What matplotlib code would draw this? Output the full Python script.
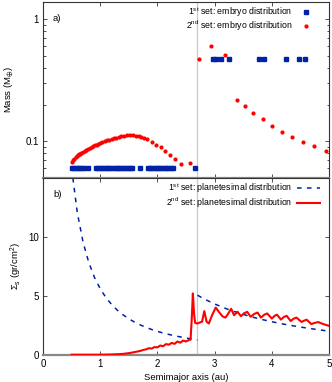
import matplotlib
matplotlib.use("Agg")
import matplotlib.pyplot as plt

plt.rcParams['font.family'] = ['Liberation Sans', 'DejaVu Sans']
plt.rcParams['mathtext.default'] = 'regular'
plt.rcParams['font.size'] = 6.5

# ---- panel a) embryo distributions ----
emb1_inner_a = [0.51, 0.55, 0.59, 0.63, 0.67, 0.71, 0.78, 0.93, 0.97, 1.01, 1.05, 1.10, 1.14, 1.18,
                1.22, 1.27, 1.31, 1.35, 1.39, 1.44, 1.48, 1.52, 1.56, 1.70, 1.83, 1.87, 1.91, 1.95,
                1.99, 2.03, 2.07, 2.11, 2.15, 2.19, 2.23, 2.27, 2.66]
emb1_inner_m = [0.06] * len(emb1_inner_a)
emb1_outer_a = [2.98, 3.03, 3.12, 3.25, 3.77, 3.87, 4.24, 4.47, 4.58]
emb1_outer_m = [0.47] * len(emb1_outer_a)

emb2_a = [0.51, 0.53, 0.55, 0.57, 0.59, 0.61, 0.63, 0.65, 0.67, 0.70, 0.73, 0.76, 0.79, 0.82, 0.85,
          0.88, 0.91, 0.94, 0.97, 1.00, 1.04, 1.08, 1.12, 1.16, 1.20, 1.24, 1.28, 1.32, 1.37, 1.42,
          1.47, 1.52, 1.57, 1.62, 1.67, 1.72, 1.77, 1.82, 1.90, 1.98, 2.06, 2.14, 2.22, 2.31, 2.42,
          2.57, 2.73, 2.93, 3.18, 3.39, 3.53, 3.68, 3.84, 4.00, 4.17, 4.36, 4.55, 4.74, 4.95]
emb2_m = [0.067, 0.070, 0.072, 0.074, 0.076, 0.077, 0.078, 0.079, 0.080, 0.082, 0.084, 0.085, 0.087,
          0.088, 0.090, 0.091, 0.093, 0.094, 0.095, 0.096, 0.098, 0.100, 0.102, 0.103, 0.105, 0.106,
          0.107, 0.108, 0.110, 0.111, 0.112, 0.112, 0.112, 0.111, 0.110, 0.108, 0.106, 0.104, 0.099,
          0.094, 0.089, 0.083, 0.077, 0.071, 0.065, 0.066, 0.47, 0.60, 0.51, 0.22, 0.194, 0.172,
          0.152, 0.134, 0.120, 0.108, 0.098, 0.091, 0.084]

# ---- panel b) planetesimal surface density ----
pl1_inner_a = [0.5, 0.6, 0.7, 0.8, 0.9, 1.0, 1.1, 1.2, 1.3, 1.4, 1.5, 1.6, 1.7, 1.8, 1.9, 2.0, 2.1,
               2.2, 2.3, 2.4, 2.5, 2.6, 2.7]
pl1_inner_s = [15.84, 12.05, 9.56, 7.83, 6.56, 5.60, 4.85, 4.26, 3.78, 3.38, 3.05, 2.77, 2.53, 2.32,
               2.14, 1.98, 1.84, 1.72, 1.61, 1.51, 1.42, 1.34, 1.26]
pl1_outer_a = [2.7, 2.8, 2.9, 3.0, 3.2, 3.4, 3.6, 3.8, 4.0, 4.2, 4.4, 4.6, 4.8, 5.0]
pl1_outer_s = [5.05, 4.78, 4.54, 4.31, 3.91, 3.57, 3.28, 3.02, 2.80, 2.60, 2.43, 2.27, 2.13, 2.00]

pl2_a = [0.50, 0.60, 0.70, 0.80, 0.90, 1.00, 1.10, 1.20, 1.30, 1.40, 1.50, 1.60, 1.70, 1.75, 1.80,
         1.85, 1.90, 1.95, 2.00, 2.05, 2.10, 2.15, 2.20, 2.25, 2.30, 2.35, 2.40, 2.45, 2.50, 2.55,
         2.58, 2.60, 2.62, 2.64, 2.66, 2.70, 2.75, 2.78, 2.82, 2.86, 2.90, 2.96, 3.02, 3.08, 3.14,
         3.19, 3.24, 3.29, 3.34, 3.40, 3.46, 3.51, 3.57, 3.63, 3.69, 3.75, 3.81, 3.87, 3.92, 4.00,
         4.05, 4.09, 4.16, 4.21, 4.26, 4.33, 4.38, 4.43, 4.52, 4.57, 4.61, 4.69, 4.75, 4.81, 4.90,
         5.00]
pl2_s = [0.0, 0.0, 0.0, 0.0, 0.0, 0.0, 0.01, 0.02, 0.04, 0.07, 0.13, 0.22, 0.32, 0.40, 0.45,
         0.55, 0.52, 0.65, 0.62, 0.78, 0.72, 0.90, 0.85, 1.00, 0.92, 1.12, 1.02, 1.20, 1.12, 1.25,
         1.28, 3.0, 5.2, 3.5, 2.7, 2.65, 2.75, 2.8, 3.7, 2.8, 2.65, 3.4, 4.0, 3.6, 3.25,
         3.15, 3.5, 3.9, 3.35, 3.65, 3.27, 3.5, 3.64, 3.22, 3.45, 3.58, 3.15, 3.4, 3.5, 3.07,
         3.3, 3.4, 2.98, 3.2, 3.3, 2.86, 3.05, 3.15, 2.78, 2.9, 2.97, 2.6, 2.7, 2.77, 2.6,
         2.45]

snow_line = 2.7
blue = '#0022a8'
red = '#ff0000'

fig = plt.figure(figsize=(3.32, 3.82), dpi=100)
L, R = 43 / 332, 329 / 332
ax1 = fig.add_axes([L, 1 - 178 / 382, R - L, (178 - 1.5) / 382])
ax2 = fig.add_axes([L, 1 - 354.7 / 382, R - L, (354.7 - 178) / 382])

for ax in (ax1, ax2):
    ax.set_xlim(0, 5)
    ax.axvline(snow_line, color='#c8c8c8', lw=0.9, zorder=0)
    ax.tick_params(which='both', direction='in', top=True, right=True, length=3,
                   width=0.6, color='#333333', labelsize=7, pad=3)
    ax.tick_params(which='minor', length=1.8)
    for s in ('left', 'right', 'top'):
        ax.spines[s].set_color('#333333')
        ax.spines[s].set_linewidth(0.8)
    ax.spines['bottom'].set_color('#888888')
    ax.spines['bottom'].set_linewidth(1.6)

# Panel a
ax1.set_yscale('log')
ax1.set_ylim(0.05, 1.4)
ax1.plot(emb1_inner_a, emb1_inner_m, ls='none', marker='s', ms=2.6, color=blue,
         label='1$^{st}$ set: embryo distribution')
ax1.plot(emb1_outer_a, emb1_outer_m, ls='none', marker='s', ms=2.6, color=blue)
ax1.plot(emb2_a, emb2_m, ls='none', marker='o', ms=3.0, color=red, mec='none',
         label='2$^{nd}$ set: embryo distribution')
ax1.set_yticks([0.1, 1])
ax1.set_yticklabels(['0.1', '1'])
ax1.set_xticks([1, 2, 3, 4])
ax1.tick_params(axis='x', labelbottom=False)
ax1.set_ylabel('Mass (M$_{\\oplus}$)', fontsize=6.8)
ax1.yaxis.set_label_coords(-0.095, 0.5)
ax1.text(0.035, 0.905, 'a)', transform=ax1.transAxes, fontsize=6.8, va='center')
ax1.legend(loc='upper right', bbox_to_anchor=(0.96, 1.015), frameon=False, markerfirst=False,
           fontsize=6.3, labelspacing=0.0, handlelength=1.2, handletextpad=1.0,
           borderpad=0.2)

# Panel b
ax2.set_ylim(0, 15)
ax2.plot(pl1_inner_a, pl1_inner_s, ls=(0, (3, 3.5)), lw=1.1, color=blue,
         label='1$^{st}$ set: planetesimal distribution')
ax2.plot(pl1_outer_a, pl1_outer_s, ls=(0, (3, 3.5)), lw=1.1, color=blue)
ax2.plot(pl2_a, pl2_s, ls='-', lw=1.5, color=red,
         label='2$^{nd}$ set: planetesimal distribution', zorder=3)
ax2.set_yticks([0, 5, 10])
ax2.set_xticks([0, 1, 2, 3, 4, 5])
ax2.set_ylabel('$\\Sigma_s$ (gr/cm$^2$)', fontsize=6.8)
ax2.yaxis.set_label_coords(-0.065, 0.5)
ax2.set_xlabel('Semimajor axis (au)', fontsize=6.8, labelpad=3)
ax2.text(0.035, 0.905, 'b)', transform=ax2.transAxes, fontsize=6.8, va='center')
ax2.legend(loc='upper right', bbox_to_anchor=(0.99, 1.015), frameon=False, markerfirst=False,
           fontsize=6.3, labelspacing=0.0, handlelength=2.6, handletextpad=0.6,
           borderpad=0.2)

fig.savefig('out.png', dpi=100)
